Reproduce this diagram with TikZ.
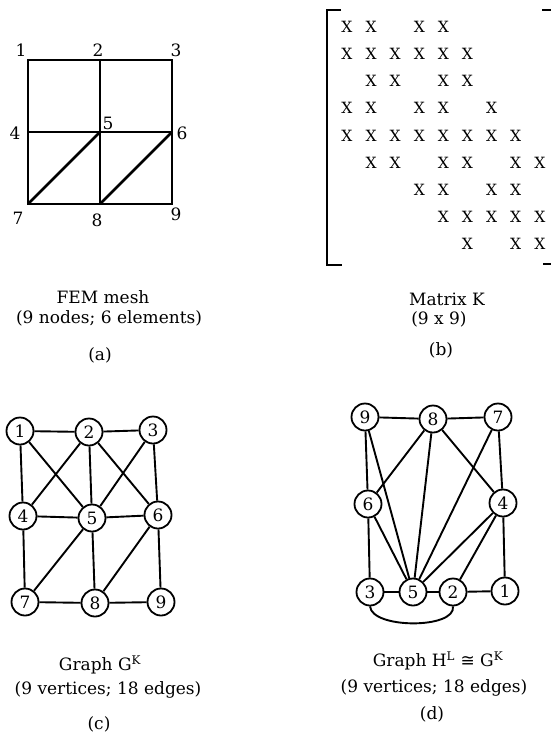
\documentclass[tikz,border=0pt]{standalone}
\usepackage{fontspec}
\setmainfont{DejaVu Serif}
\newfontfamily\symfont{DejaVu Sans}
\begin{document}
\begin{tikzpicture}[
  x=1pt, y=-1pt,
  font=\fontsize{17}{20}\selectfont,
  grd/.style={line width=1.6pt},
  diag/.style={line width=2.7pt},
  brk/.style={line width=1.7pt},
  ent/.style={font=\fontsize{15.5}{17}\selectfont, inner sep=0pt},
  vtx/.style={circle, draw, line width=1.8pt, minimum size=27pt, inner sep=0pt, fill=white},
  edg/.style={line width=1.9pt},
  lbl/.style={inner sep=0pt, anchor=center}
]
\useasboundingbox (0,0) rectangle (550,742);
% (a) malha
\foreach \n/\x/\y in {1/28/60, 2/100/60, 3/172/60, 4/28/132, 5/100/132, 6/172/132, 7/28/204, 8/100/204, 9/172/204}
  \coordinate (m\n) at (\x,\y);
\draw[grd] (m1) rectangle (m9);
\draw[grd] (m2) -- (m8);
\draw[grd] (m4) -- (m6);
\draw[diag] (m7) -- (m5);
\draw[diag] (m8) -- (m6);
\foreach \n/\x/\y in {1/21/50, 2/98/50, 3/176/50, 4/15/133, 5/108/123, 6/182/133, 7/18/218, 8/97/220, 9/176/214}
  \node[inner sep=0pt] (ml\n) at (\x,\y) {\n};
\node[lbl] (capa1) at (103,297) {FEM mesh};
\node[lbl] (capa2) at (109,318) {(9 nodes; 6 elements)};
\node[lbl] (capa3) at (100,355) {(a)};
% (b) matriz
\coordinate (bl1) at (341,10);
\coordinate (bl2) at (327,10);
\coordinate (bl3) at (327,265);
\coordinate (bl4) at (342,265);
\draw[brk] (bl1) -- (bl2) -- (bl3) -- (bl4);
\coordinate (br1) at (542,10);
\coordinate (br2) at (551,10);
\coordinate (br3) at (543,264);
\coordinate (br4) at (551,264);
\draw[brk] (br1) -- (br2);
\draw[brk] (br3) -- (br4);
\foreach \r/\cols in {1/{1,2,4,5}, 2/{1,2,3,4,5,6}, 3/{2,3,5,6}, 4/{1,2,4,5,7}, 5/{1,2,3,4,5,6,7,8}, 6/{2,3,5,6,8,9}, 7/{4,5,7,8}, 8/{5,6,7,8,9}, 9/{6,8,9}}
  \foreach \c in \cols
    \node[ent] (k\r\c) at ({347+24.1*(\c-1)}, {27+27.1*(\r-1)}) {X};
\node[lbl] (capb1) at (447,299) {Matrix K};
\node[lbl] (capb2) at (439,319) {(9 x 9)};
\node[lbl] (capb3) at (441,350) {(b)};
% (c) grafo G^K
\foreach \n/\x/\y in {1/20/431, 2/89/432, 3/153/430, 4/23/516, 5/92/518, 6/158/515, 7/25/602, 8/95/603, 9/161/602}
  \node[vtx] (g\n) at (\x,\y) {\n};
\foreach \a/\b in {1/2, 2/3, 1/4, 1/5, 2/4, 2/5, 2/6, 3/5, 3/6, 4/5, 5/6, 4/7, 5/7, 5/8, 6/8, 6/9, 7/8, 8/9}
  \draw[edg] (g\a) -- (g\b);
\node[lbl] (capc1) at (100,665) {Graph G\textsuperscript{K}};
\node[lbl] (capc2) at (108,690) {(9 vertices; 18 edges)};
\node[lbl] (capc3) at (99,724) {(c)};
% (d) grafo H^L
\foreach \n/\x/\y in {9/365/417, 8/433/419, 7/498/417, 6/368/504, 4/503/503, 3/370/592, 5/413/592, 2/453/592, 1/505/591}
  \node[vtx] (h\n) at (\x,\y) {\n};
\foreach \a/\b in {9/8, 8/7, 9/6, 9/5, 8/6, 8/5, 8/4, 7/5, 7/4, 6/5, 6/3, 4/5, 4/2, 4/1, 3/5, 5/2, 2/1}
  \draw[edg] (h\a) -- (h\b);
\draw[edg] (h3.south) .. controls (372,629) and (456,629) .. (h2.south);
\node[lbl] (capd1) at (438,661) {Graph H\textsuperscript{L} {\symfont ≅} G\textsuperscript{K}};
\node[lbl] (capd2) at (434,688) {(9 vertices; 18 edges)};
\node[lbl] (capd3) at (432,714) {(d)};
\end{tikzpicture}
\end{document}
